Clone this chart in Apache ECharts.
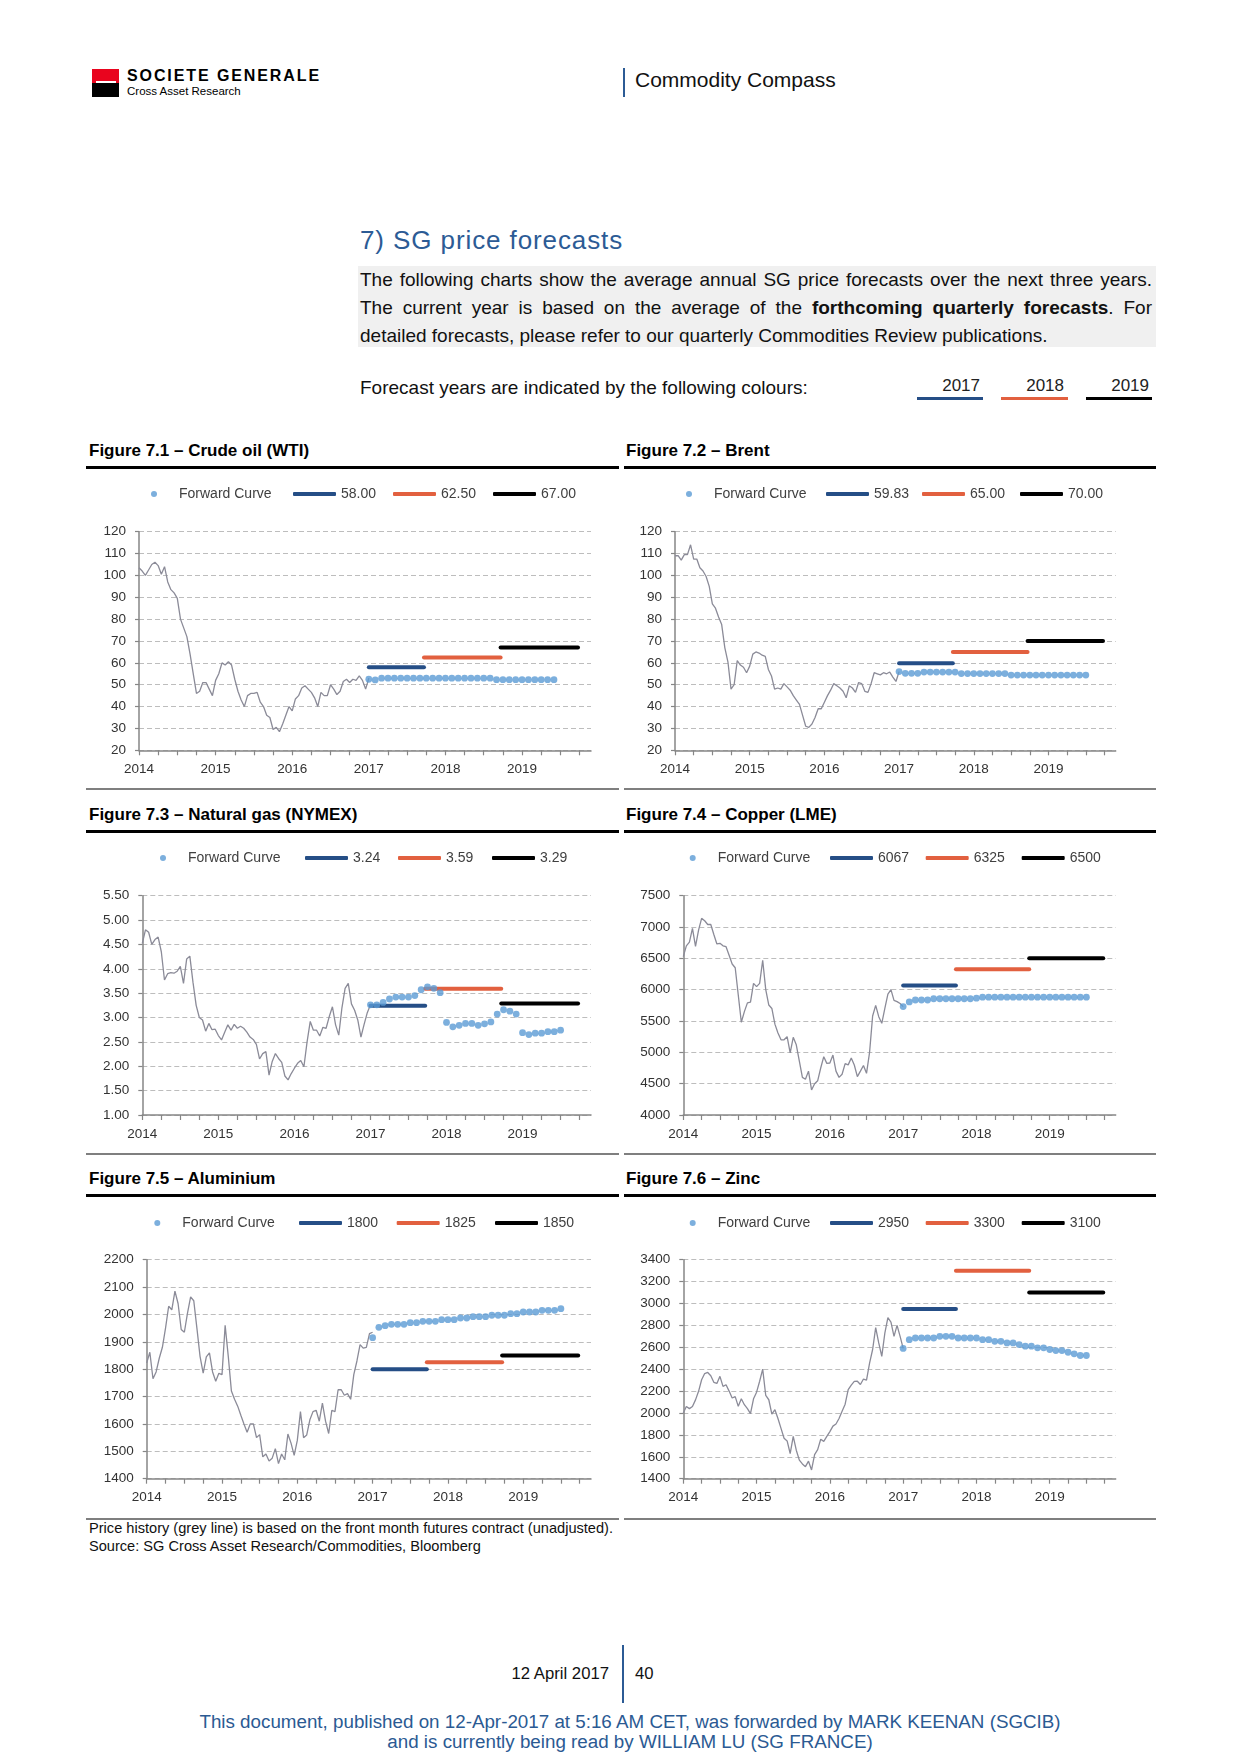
<!DOCTYPE html>
<html><head><meta charset="utf-8">
<script src="https://cdn.jsdelivr.net/npm/echarts@6.0.0/dist/echarts.min.js"></script>
<style>
html,body{margin:0;padding:0;background:#fff;}
#page{position:relative;width:1240px;height:1754px;overflow:hidden;font-family:"Liberation Sans",Arial,Helvetica,sans-serif;color:#111;background:#fff;}
.abs{position:absolute;white-space:nowrap;}
.chart{position:absolute;}
.ftitle{position:absolute;font-size:17px;font-weight:bold;line-height:20px;color:#000;white-space:nowrap;}
.rule{position:absolute;height:3px;background:#000;}
.grule{position:absolute;height:2px;background:#7f7f7f;}
.pline{position:absolute;left:360px;width:792px;font-size:19px;line-height:28px;color:#111;white-space:nowrap;}
.just{text-align:justify;text-align-last:justify;white-space:normal;}
</style>
</head><body>
<div id="page">
  <!-- header -->
  <div class="abs" style="left:92px;top:69px;width:27px;height:14px;background:#e9041e;"></div>
  <div class="abs" style="left:92px;top:83px;width:27px;height:14px;background:#000;"></div>
  <div class="abs" style="left:96px;top:81px;width:20px;height:2px;background:#fff;"></div>
  <div class="abs" style="left:127px;top:67px;font-size:16px;font-weight:bold;line-height:18px;letter-spacing:1.9px;color:#000;">SOCIETE GENERALE</div>
  <div class="abs" style="left:127px;top:84px;font-size:11.5px;line-height:14px;color:#000;">Cross Asset Research</div>
  <div class="abs" style="left:623px;top:68px;width:2px;height:29px;background:#2c5b95;"></div>
  <div class="abs" style="left:635px;top:67px;font-size:21px;line-height:26px;color:#111;">Commodity Compass</div>

  <div class="abs" style="left:360px;top:225px;font-size:26px;letter-spacing:0.9px;line-height:30px;color:#2c5b95;">7) SG price forecasts</div>
  <div class="abs" style="left:358px;top:266px;width:798px;height:81px;background:#f0f0f0;"></div>
  <div class="pline just" style="top:266px;">The following charts show the average annual SG price forecasts over the next three years.</div>
  <div class="pline just" style="top:294px;">The current year is based on the average of the <b>forthcoming quarterly forecasts</b>. For</div>
  <div class="pline" style="top:322px;">detailed forecasts, please refer to our quarterly Commodities Review publications.</div>
  <div class="abs" style="left:360px;top:376px;font-size:19px;line-height:24px;color:#111;">Forecast years are indicated by the following colours:</div>
  <div class="abs" style="left:917px;top:374px;width:63px;text-align:right;font-size:17px;line-height:24px;color:#222;">2017</div>
  <div class="abs" style="left:1001px;top:374px;width:63px;text-align:right;font-size:17px;line-height:24px;color:#222;">2018</div>
  <div class="abs" style="left:1086px;top:374px;width:63px;text-align:right;font-size:17px;line-height:24px;color:#222;">2019</div>
  <div class="abs" style="left:917px;top:397px;width:66px;height:3px;background:#254e86;"></div>
  <div class="abs" style="left:1001px;top:397px;width:67px;height:3px;background:#e2603f;"></div>
  <div class="abs" style="left:1086px;top:397px;width:66px;height:3px;background:#000;"></div>

  <!-- figure titles and rules -->
  <div class="ftitle" style="left:89px;top:441px;">Figure 7.1 – Crude oil (WTI)</div>
  <div class="ftitle" style="left:626px;top:441px;">Figure 7.2 – Brent</div>
  <div class="rule" style="left:86px;top:466px;width:533px;"></div>
  <div class="rule" style="left:624px;top:466px;width:532px;"></div>
  <div class="grule" style="left:86px;top:788px;width:533px;"></div>
  <div class="grule" style="left:624px;top:788px;width:532px;"></div>

  <div class="ftitle" style="left:89px;top:805px;">Figure 7.3 – Natural gas (NYMEX)</div>
  <div class="ftitle" style="left:626px;top:805px;">Figure 7.4 – Copper (LME)</div>
  <div class="rule" style="left:86px;top:830px;width:533px;"></div>
  <div class="rule" style="left:624px;top:830px;width:532px;"></div>
  <div class="grule" style="left:86px;top:1153px;width:533px;"></div>
  <div class="grule" style="left:624px;top:1153px;width:532px;"></div>

  <div class="ftitle" style="left:89px;top:1169px;">Figure 7.5 – Aluminium</div>
  <div class="ftitle" style="left:626px;top:1169px;">Figure 7.6 – Zinc</div>
  <div class="rule" style="left:86px;top:1194px;width:533px;"></div>
  <div class="rule" style="left:624px;top:1194px;width:532px;"></div>
  <div class="grule" style="left:86px;top:1518px;width:533px;"></div>
  <div class="grule" style="left:624px;top:1518px;width:532px;"></div>

  <div id="c1" class="chart"></div>
  <div id="c2" class="chart"></div>
  <div id="c3" class="chart"></div>
  <div id="c4" class="chart"></div>
  <div id="c5" class="chart"></div>
  <div id="c6" class="chart"></div>

  <!-- footnotes -->
  <div class="abs" style="left:89px;top:1520px;font-size:14.6px;line-height:17px;color:#111;">Price history (grey line) is based on the front month futures contract (unadjusted).</div>
  <div class="abs" style="left:89px;top:1538px;font-size:14.6px;line-height:17px;color:#111;">Source: SG Cross Asset Research/Commodities, Bloomberg</div>

  <!-- footer -->
  <div class="abs" style="left:410px;top:1664px;width:199px;text-align:right;font-size:16.7px;line-height:20px;color:#111;">12 April 2017</div>
  <div class="abs" style="left:622px;top:1645px;width:2px;height:58px;background:#2c5b95;"></div>
  <div class="abs" style="left:635px;top:1664px;font-size:16.7px;line-height:20px;color:#111;">40</div>
  <div class="abs" style="left:130px;top:1711px;width:1000px;text-align:center;font-size:18.8px;line-height:21px;color:#2b5a93;">This document, published on 12-Apr-2017 at 5:16 AM CET, was forwarded by MARK KEENAN (SGCIB)</div>
  <div class="abs" style="left:130px;top:1731px;width:1000px;text-align:center;font-size:18.8px;line-height:21px;color:#2b5a93;">and is currently being read by WILLIAM LU (SG FRANCE)</div>
</div>

<script>
// ---------------- DATA ----------------
// Price history: semi-monthly samples starting Jan 2014
const histStart = 2014.0;
const histStep = 1 / 24;
// Forward curve: monthly points starting Jan 2017
const fwdStart = 2017.0;
const fwdStep = 1 / 12;
// Forecast periods (years on the x axis) for 2017, 2018, 2019
const fcStart = [2017.0, 2017.72, 2018.72];
const fcEnd = [2017.72, 2018.72, 2019.73];
const xYearLabels = [2014, 2015, 2016, 2017, 2018, 2019];

const wtiHist = [103.5,102,100,102.5,105,106,104.5,100.5,104,97,
  93.5,92,89.5,80,76,72,64,55,46,47,
  51,51,48,45,52,55,60,59,60.5,59,
  52.5,47,43,40,45,46,46,46.5,42,40,
  36,35,29.5,30.5,28.5,32,36,40,38,43.5,
  45,48.5,49.5,48,46.5,44,40,46.5,45,45,
  50,48,45.5,47,51.5,52.5,51,52.5,52,54,
  52,48,53];
const wtiFwd = [52.5,52.2,53,53,53,53,53,53,53,53,
  53,53,53,53,53,53,53,53,53,53,
  52.3,52.3,52.3,52.3,52.3,52.3,52.3,52.3,52.3,52.3];
const wtiFc = [58.00, 62.50, 67.00];

const brentHist = [109,109,107,109.5,109.5,114,107.5,107.5,103.5,102,
  99.5,95,87,85,81,77.5,67,60.5,48,50,
  61,59,58,55.5,58.5,64,65,64.5,63.5,63,
  57,54,48,48.5,48,50.5,49,47.5,45,43,
  41,36,31,30.5,32,35,39,39,42,45,
  47.5,50.5,49.5,48.5,47,44,49.5,48.5,46.5,51,
  50.5,47,46.5,50.5,55.5,55,54.5,55.5,55,55.8,
  53.5,51.5,56];
const brentFwd = [56,55.2,55.2,55.2,55.8,55.8,55.8,55.8,55.8,55.8,
  55.1,55.1,55.1,55.1,55.1,55.1,55.1,55.1,
  54.4,54.4,54.4,54.4,54.4,54.4,54.4,54.4,54.4,54.4,54.4,54.4,54.4];
const brentFc = [59.83, 65.00, 70.00];

const gasHist = [4.52,4.8,4.75,4.5,4.6,4.65,4.35,3.77,3.9,3.92,
  3.91,3.95,4.05,3.7,4.2,4.26,3.72,3.25,3.0,2.95,
  2.72,2.88,2.75,2.76,2.63,2.54,2.7,2.85,2.74,2.86,
  2.78,2.82,2.78,2.7,2.6,2.55,2.45,2.15,2.26,2.3,
  1.82,2.1,2.26,2.16,2.08,1.8,1.72,1.85,1.96,2.06,
  2.12,1.99,2.5,2.92,2.74,2.74,2.62,2.8,2.78,3.02,
  3.22,2.85,2.64,3.2,3.6,3.7,3.28,3.15,2.95,2.6,
  2.86,3.1,3.26];
const gasFwd = [3.26,3.26,3.31,3.38,3.42,3.42,3.42,3.45,3.57,3.63,
  3.60,3.51,2.90,2.81,2.84,2.88,2.88,2.84,2.87,2.91,
  3.07,3.16,3.13,3.07,2.69,2.65,2.68,2.68,2.71,2.71,2.74];
const gasFc = [3.24, 3.59, 3.29];

const copperHist = [6527,6700,6760,6980,6690,6950,7138,7100,7040,7040,
  6880,6730,6740,6700,6686,6550,6410,6350,5915,5480,
  5650,5790,5800,6100,6048,6100,6470,6000,5755,5700,
  5450,5310,5200,5200,5250,4990,5240,5120,4860,4600,
  4570,4700,4400,4500,4545,4750,4931,4824,4830,4957,
  4700,4600,4650,4820,4800,4910,4798,4612,4700,4790,
  4665,5000,5580,5750,5569,5463,5700,5930,6000,5830,
  5810,5780,5729];
const copperFwd = [5730,5805,5835,5835,5835,5855,5855,5855,5855,5855,
  5855,5855,5865,5880,5880,5880,5880,5880,5880,5880,
  5880,5880,5880,5880,5880,5880,5880,5880,5880,5880,5880];
const copperFc = [6067, 6325, 6500];

const aluHist = [1823,1862,1765,1790,1840,1880,1950,2030,2017,2085,
  2040,1945,1935,2005,2064,2050,1950,1847,1786,1845,
  1860,1790,1756,1785,1780,1960,1847,1720,1690,1665,
  1632,1600,1570,1600,1600,1550,1561,1480,1490,1465,
  1475,1510,1455,1490,1469,1563,1530,1485,1540,1645,
  1550,1560,1615,1645,1650,1610,1676,1610,1565,1650,
  1645,1725,1725,1705,1711,1690,1780,1830,1890,1877,
  1880,1930,1935];
const aluFwd = [1915,1953,1959,1964,1964,1964,1970,1970,1975,1975,
  1975,1981,1981,1981,1987,1987,1992,1992,1992,1997,
  1997,1997,2003,2003,2009,2009,2009,2015,2015,2015,2021];
const aluFc = [1800, 1825, 1850];

const zincHist = [2000,2060,2040,2060,2120,2198,2304,2360,2370,2340,
  2280,2270,2335,2243,2258,2200,2137,2150,2061,2130,
  2076,2040,1994,2130,2190,2290,2400,2160,2121,1990,
  2030,1950,1860,1770,1745,1630,1787,1660,1570,1535,
  1510,1560,1480,1620,1665,1760,1741,1787,1830,1880,
  1900,1950,2015,2080,2213,2255,2289,2290,2260,2310,
  2300,2456,2580,2780,2640,2517,2730,2870,2830,2700,
  2800,2700,2590];
const zincFwd = [2590,2670,2685,2685,2685,2685,2700,2700,2700,2685,
  2685,2685,2685,2670,2670,2655,2655,2640,2640,2625,
  2610,2610,2595,2595,2580,2570,2570,2555,2540,2525,2525];
const zincFc = [2950, 3300, 3100];

// ---------------- STYLE / LAYOUT ----------------
const FONT = '"Liberation Sans", Arial, Helvetica, sans-serif';
const GREY = '#8b8b98';
const DOT = '#5b9bd5';
const FC_COL = ['#254e86', '#e2603f', '#000000'];
const AX = '#868686';

const charts = [
  {id:'c1', hist:wtiHist, fwd:wtiFwd, fc:wtiFc, fcDec:2, yMin:20, yMax:120, yInt:10, yDec:0,
   L:{left:86,right:619,top:474,bottom:786,plotL:139,plotR:591,plotT:531.7,plotB:750.3,legY:494,dotX:154,lineX:[293,393,493]}},
  {id:'c2', hist:brentHist, fwd:brentFwd, fc:brentFc, fcDec:2, yMin:20, yMax:120, yInt:10, yDec:0,
   L:{left:624,right:1156,top:474,bottom:786,plotL:675,plotR:1115.7,plotT:531.7,plotB:750.3,legY:494,dotX:689,lineX:[826,922,1020]}},
  {id:'c3', hist:gasHist, fwd:gasFwd, fc:gasFc, fcDec:2, yMin:1, yMax:5.5, yInt:0.5, yDec:2,
   L:{left:86,right:619,top:838,bottom:1150,plotL:142.3,plotR:591,plotT:895.7,plotB:1115,legY:858,dotX:163,lineX:[305,398,492]}},
  {id:'c4', hist:copperHist, fwd:copperFwd, fc:copperFc, fcDec:0, yMin:4000, yMax:7500, yInt:500, yDec:0,
   L:{left:624,right:1156,top:838,bottom:1150,plotL:683.3,plotR:1115.7,plotT:895.7,plotB:1115,legY:858,dotX:692.7,lineX:[830,925.7,1021.7]}},
  {id:'c5', hist:aluHist, fwd:aluFwd, fc:aluFc, fcDec:0, yMin:1400, yMax:2200, yInt:100, yDec:0,
   L:{left:86,right:619,top:1202,bottom:1515,plotL:146.7,plotR:591,plotT:1259.7,plotB:1478.7,legY:1223,dotX:157.3,lineX:[299,396.7,495]}},
  {id:'c6', hist:zincHist, fwd:zincFwd, fc:zincFc, fcDec:0, yMin:1400, yMax:3400, yInt:200, yDec:0,
   L:{left:624,right:1156,top:1202,bottom:1515,plotL:683.3,plotR:1115.7,plotT:1259.7,plotB:1478.7,legY:1223,dotX:692.7,lineX:[830,925.7,1021.7]}}
];

const quarterTicks = [];
for (let q = 0; q <= 23; q++) quarterTicks.push(2014 + q * 0.25);

function buildOption(c) {
  const L = c.L;
  const names = c.fc.map(v => v.toFixed(c.fcDec));
  const legText = {fontSize:14, color:'#404040', fontFamily:FONT};
  const series = [
    {name:'History', type:'line', data:c.hist.map((v,i)=>[histStart + i*histStep, v]),
     symbol:'none', showSymbol:false, lineStyle:{color:GREY, width:1.3}, itemStyle:{color:GREY}, z:2, silent:true},
    {name:'Forward Curve', type:'scatter', data:c.fwd.map((v,i)=>[fwdStart + i*fwdStep, v]),
     symbol:'circle', symbolSize:6.8, itemStyle:{color:DOT}, z:6}
  ];
  names.forEach((n,k)=>{
    series.push({name:n, type:'line', color:FC_COL[k],
      data:[[fcStart[k], c.fc[k]], [fcEnd[k], c.fc[k]]],
      symbol:'none', showSymbol:false,
      lineStyle:{color:FC_COL[k], width:4, cap:'round'}, itemStyle:{color:FC_COL[k]}, z:4});
  });
  const legTop = L.legY - L.top - 7;
  const legends = [{data:[{name:'Forward Curve', icon:'circle'}], left:L.dotX - 3 - L.left, top:legTop,
    itemWidth:40, itemHeight:6, padding:0, selectedMode:false, textStyle:legText, itemStyle:{borderWidth:0}}];
  names.forEach((n,k)=>{
    legends.push({data:[{name:n, icon:'roundRect'}], left:L.lineX[k] - L.left, top:legTop,
      itemWidth:43, itemHeight:4, padding:0, selectedMode:false, textStyle:legText, itemStyle:{borderWidth:0}});
  });
  return {
    animation:false,
    legend:legends,
    grid:{left:L.plotL - L.left, top:L.plotT - L.top, width:L.plotR - L.plotL, height:L.plotB - L.plotT, containLabel:false},
    xAxis:{type:'value', min:2014, max:2019.9, interval:0.25,
      axisLine:{show:true, onZero:false, lineStyle:{color:AX, width:1.5}},
      axisTick:{show:true, length:5, customValues:quarterTicks, lineStyle:{color:AX, width:1.2}},
      axisLabel:{customValues:xYearLabels, formatter:v => Number.isInteger(v) ? String(v) : '',
        fontSize:13.5, color:'#333', margin:12, fontFamily:FONT},
      splitLine:{show:false}},
    yAxis:{type:'value', min:c.yMin, max:c.yMax, interval:c.yInt,
      axisLine:{show:true, lineStyle:{color:AX, width:1.5}},
      axisTick:{show:true, length:4, lineStyle:{color:AX, width:1.2}},
      axisLabel:{formatter:v => v.toFixed(c.yDec), fontSize:13.5, color:'#333', margin:13, fontFamily:FONT},
      splitLine:{show:true, lineStyle:{color:'#bdbdbd', type:[5,3], width:1.2}}},
    series:series
  };
}

charts.forEach(c => {
  const el = document.getElementById(c.id);
  el.style.left = c.L.left + 'px';
  el.style.top = c.L.top + 'px';
  el.style.width = (c.L.right - c.L.left) + 'px';
  el.style.height = (c.L.bottom - c.L.top) + 'px';
  const ch = echarts.init(el, null, {renderer:'canvas'});
  ch.setOption(buildOption(c));
});
</script>
</body></html>
